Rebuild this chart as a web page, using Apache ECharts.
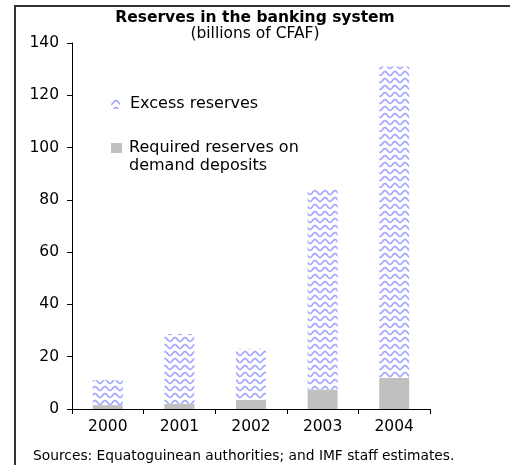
<!DOCTYPE html>
<html>
<head>
<meta charset="utf-8">
<script src="https://cdn.jsdelivr.net/npm/echarts@6/dist/echarts.min.js"></script>
<style>
  html, body { margin: 0; padding: 0; background: #fff; }
  #chart { width: 510px; height: 465px; }
</style>
</head>
<body>
<div id="chart"></div>
<script>
const years = ['2000', '2001', '2002', '2003', '2004']
const requiredReserves = [1.5, 2, 3.5, 7.5, 12]
const excessReserves = [9.5, 26.7, 19.5, 76.5, 119]
const yTicks = [0, 20, 40, 60, 80, 100, 120, 140]

const font = '"DejaVu Sans", Verdana, sans-serif'
const excessName = 'Excess reserves'
const requiredName = 'Required reserves on\ndemand deposits'

// wavy fill like the original excel pattern
function wavePattern() {
  const c = document.createElement('canvas')
  c.width = 10
  c.height = 7
  const ctx = c.getContext('2d')
  ctx.fillStyle = '#fff'
  ctx.fillRect(0, 0, 10, 7)
  ctx.strokeStyle = '#a3a8ff'
  ctx.lineWidth = 1.7
  ctx.beginPath()
  for (let x = 0; x <= 10; x += 0.5) {
    const y = 3.5 + 2 * Math.cos((x / 10) * 2 * Math.PI)
    if (x === 0) ctx.moveTo(x, y)
    else ctx.lineTo(x, y)
  }
  ctx.stroke()
  return c
}

const legendText = { fontSize: 16, color: '#000', fontFamily: font, lineHeight: 18 }

const chart = echarts.init(document.getElementById('chart'))

chart.setOption({
  animation: false,
  textStyle: { fontFamily: font },
  title: {
    text: 'Reserves in the banking system',
    subtext: '(billions of CFAF)',
    left: 'center',
    top: 10,
    padding: 0,
    itemGap: 0,
    textStyle: { fontSize: 15.5, fontWeight: 'bold', color: '#000', fontFamily: font, lineHeight: 15 },
    subtextStyle: { fontSize: 15.5, color: '#000', fontFamily: font, lineHeight: 15 },
  },
  legend: [
    {
      left: 111,
      top: 95,
      padding: 0,
      itemWidth: 14,
      itemHeight: 10,
      itemGap: 0,
      // swatch with blank room on its right, so the label starts further out
      icon: 'path://M0 0H9V10H0Z M14 10L14.01 10L14 10Z',
      data: [excessName],
      textStyle: legendText,
    },
    {
      // square sits next to the first text line, like the original
      left: 111,
      top: 139,
      padding: 0,
      itemWidth: 13,
      itemHeight: 28,
      itemGap: 0,
      icon: 'path://M0 0H11V10H0Z M13 28L13.01 28L13 28Z',
      data: [requiredName],
      textStyle: legendText,
    },
  ],
  grid: {
    left: 72,
    right: 80,
    top: 43,
    bottom: 56,
  },
  xAxis: {
    type: 'category',
    data: years,
    axisLine: { lineStyle: { color: '#000', width: 1 } },
    axisTick: { show: true, length: 5, lineStyle: { color: '#000' } },
    axisLabel: { color: '#000', fontSize: 15.5, margin: 10 },
  },
  yAxis: {
    type: 'value',
    min: yTicks[0],
    max: yTicks[yTicks.length - 1],
    interval: 20,
    splitLine: { show: false },
    axisLine: { show: true, lineStyle: { color: '#000', width: 1 } },
    axisTick: { show: true, length: 5, lineStyle: { color: '#000' } },
    axisLabel: { color: '#000', fontSize: 15.5, margin: 13 },
  },
  series: [
    {
      name: requiredName,
      type: 'bar',
      stack: 'reserves',
      barWidth: 30,
      data: requiredReserves,
      itemStyle: { color: '#c0c0c0' },
    },
    {
      name: excessName,
      type: 'bar',
      stack: 'reserves',
      barWidth: 30,
      data: excessReserves,
      itemStyle: { color: { image: wavePattern(), repeat: 'repeat' } },
    },
  ],
  graphic: [
    {
      type: 'polyline',
      shape: { points: [[15, 465], [15, 6], [510, 6]] },
      style: { stroke: '#333', lineWidth: 2, fill: null },
    },
    {
      type: 'text',
      left: 33,
      top: 449,
      style: {
        text: 'Sources: Equatoguinean authorities; and IMF staff estimates.',
        fontSize: 13.8,
        fontFamily: font,
        fill: '#000',
      },
    },
  ],
})
</script>
</body>
</html>
